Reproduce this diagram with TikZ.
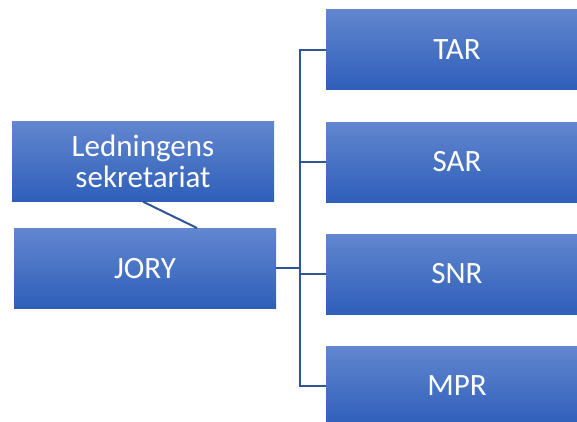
\documentclass[tikz,border=0pt]{standalone}
\usepackage{fontspec}
\setmainfont{Carlito}
\definecolor{boxtop}{RGB}{98,134,208}
\definecolor{boxbot}{RGB}{46,95,185}
\definecolor{linkblue}{RGB}{47,85,151}
\tikzset{
  unit/.style={rectangle, minimum width=262pt, minimum height=80pt, inner sep=0pt,
    top color=boxtop, bottom color=boxbot, text=white, font=\fontsize{31}{34}\selectfont,
    align=center},
  link/.style={draw=linkblue, line width=2pt}
}
\begin{document}
\begin{tikzpicture}[x=1pt, y=-1pt]
  \clip (0,0) rectangle (577,421);
  \fill[white] (0,0) rectangle (577,421);
  % left column
  \node[unit] (sek) at (143,161.5) {Ledningens\\[-3pt]sekretariat};
  \node[unit] (jory) at (145,268.5) {JORY};
  % right column
  \node[unit] (tar) at (457,49.5) {TAR};
  \node[unit] (sar) at (457,162) {SAR};
  \node[unit] (snr) at (457,274) {SNR};
  \node[unit] (mpr) at (457,386) {MPR};
  % connectors
  \coordinate (trunk) at (300,268);
  \draw[link] (sek.south) -- (197,228);
  \draw[link] (jory.east |- trunk) -- (trunk);
  \draw[link] (tar.west) -| (trunk) |- (mpr.west);
  \draw[link] (sar.west) -- (sar.west -| trunk);
  \draw[link] (snr.west) -- (snr.west -| trunk);
\end{tikzpicture}
\end{document}
